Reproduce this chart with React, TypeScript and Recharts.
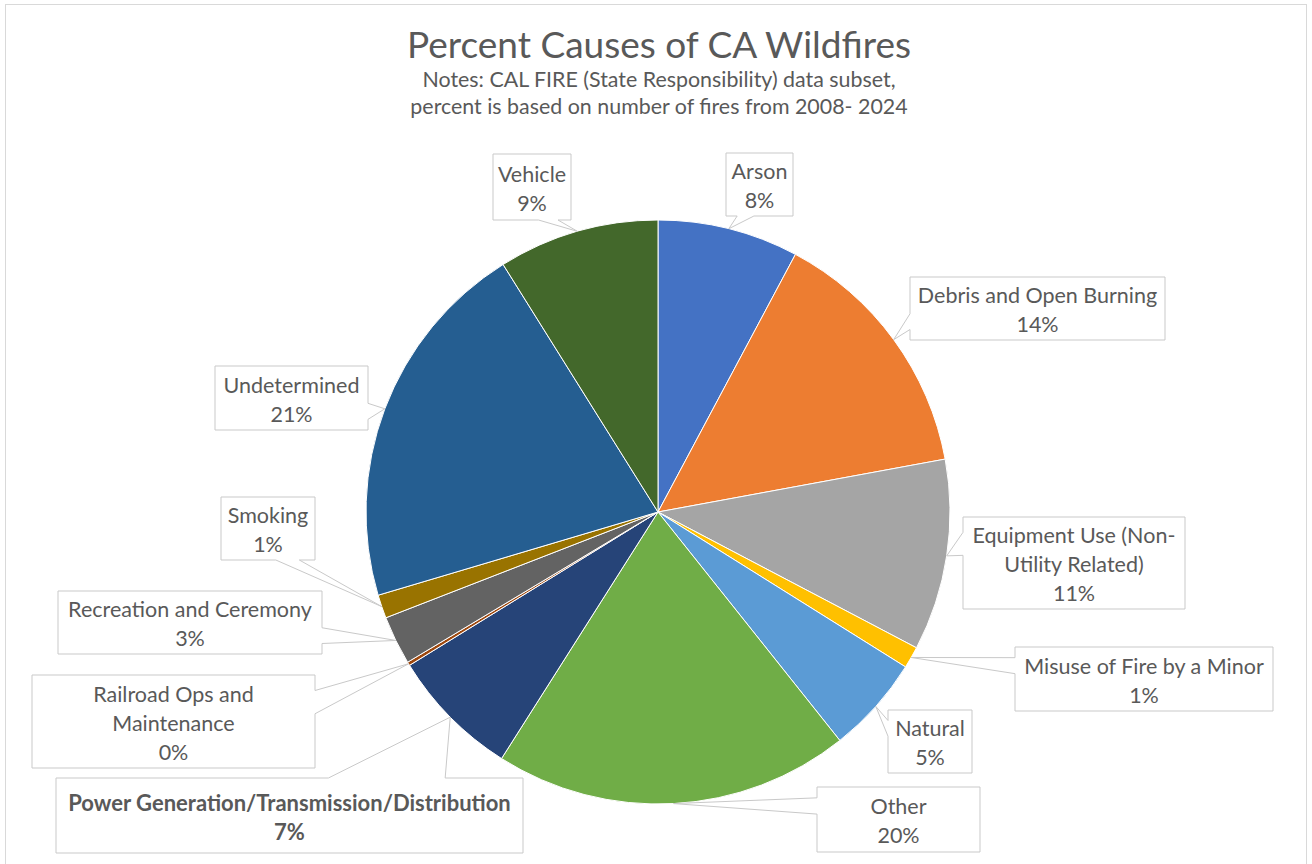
import React from 'react';
import { PieChart, Pie, Cell } from 'recharts';

const CATEGORIES: string[] = [
  'Arson',
  'Debris and Open Burning',
  'Equipment Use (Non-Utility Related)',
  'Misuse of Fire by a Minor',
  'Natural',
  'Other',
  'Power Generation/Transmission/Distribution',
  'Railroad Ops and Maintenance',
  'Recreation and Ceremony',
  'Smoking',
  'Undetermined',
  'Vehicle',
];

const VALUES: number[] = [7.8, 14.3, 10.6, 1.2, 5.4, 19.7, 7.2, 0.2, 2.7, 1.3, 20.7, 8.9];

const LABEL_LINES: string[][] = [
  ['Arson'],
  ['Debris and Open Burning'],
  ['Equipment Use (Non-', 'Utility Related)'],
  ['Misuse of Fire by a Minor'],
  ['Natural'],
  ['Other'],
  ['Power Generation/Transmission/Distribution'],
  ['Railroad Ops and', 'Maintenance'],
  ['Recreation and Ceremony'],
  ['Smoking'],
  ['Undetermined'],
  ['Vehicle'],
];

const COLORS: string[] = [
  '#4472C4', '#ED7D31', '#A5A5A5', '#FFC000', '#5B9BD5', '#70AD47',
  '#264478', '#9E480E', '#636363', '#997300', '#255E91', '#43682B',
];

const BOLD_INDEX = 6;

// Layout of the callout boxes (page pixels)
const BOXES = [
  { x: 726, y: 153, w: 67, h: 63 },
  { x: 910, y: 277, w: 255, h: 63 },
  { x: 963, y: 517, w: 222, h: 92 },
  { x: 1015, y: 647, w: 258, h: 64 },
  { x: 888, y: 710, w: 84, h: 63 },
  { x: 817, y: 787, w: 163, h: 65 },
  { x: 56, y: 778, w: 467, h: 75 },
  { x: 32, y: 675, w: 283, h: 93 },
  { x: 58, y: 591, w: 264, h: 63 },
  { x: 221, y: 497, w: 94, h: 63 },
  { x: 215, y: 366, w: 153, h: 64 },
  { x: 493, y: 154, w: 78, h: 66 },
];

const data = CATEGORIES.map((name, i) => ({ name, value: VALUES[i] }));
const TOTAL = VALUES.reduce((a, b) => a + b, 0);

const FONT = 'Lato, "Open Sans", sans-serif';
const TEXT_COLOR = '#595959';

function calloutPath(b: { x: number; y: number; w: number; h: number }, tx: number, ty: number) {
  const { x, y, w, h } = b;
  const hc = x + w / 2;
  const vc = y + h / 2;
  const dx = tx - hc;
  const dy = ty - vc;
  const dq = (dx * h) / w;
  const x1 = x + (w * (dx > 0 ? 7 : 2)) / 12;
  const x2 = x + (w * (dx > 0 ? 10 : 5)) / 12;
  const y1 = y + (h * (dy > 0 ? 7 : 2)) / 12;
  const y2 = y + (h * (dy > 0 ? 10 : 5)) / 12;
  const vertical = Math.abs(dy) > Math.abs(dq);
  let d = `M${x},${y}`;
  if (vertical && dy < 0) d += ` L${x1},${y} L${tx},${ty} L${x2},${y}`;
  d += ` L${x + w},${y}`;
  if (!vertical && dx > 0) d += ` L${x + w},${y1} L${tx},${ty} L${x + w},${y2}`;
  d += ` L${x + w},${y + h}`;
  if (vertical && dy > 0) d += ` L${x2},${y + h} L${tx},${ty} L${x1},${y + h}`;
  d += ` L${x},${y + h}`;
  if (!vertical && dx < 0) d += ` L${x},${y2} L${tx},${ty} L${x},${y1}`;
  d += ' Z';
  return d;
}

const RAD = Math.PI / 180;

const renderLabel = (props: any) => {
  const { cx, cy, midAngle, outerRadius, index, value } = props;
  const tx = cx + outerRadius * Math.cos(-midAngle * RAD);
  const ty = cy + outerRadius * Math.sin(-midAngle * RAD);
  const b = BOXES[index];
  const lines = [...LABEL_LINES[index], `${Math.round((value / TOTAL) * 100)}%`];
  const lh = 29;
  const vc = b.y + b.h / 2;
  const bold = index === BOLD_INDEX;
  return (
    <g key={`lbl-${index}`}>
      <path d={calloutPath(b, tx, ty)} fill="#ffffff" stroke="#c9c9c9" strokeWidth={1} />
      {lines.map((t, i) => (
        <text
          key={i}
          x={b.x + b.w / 2}
          y={vc + (i - (lines.length - 1) / 2) * lh + 1}
          textAnchor="middle"
          dominantBaseline="central"
          fontFamily={FONT}
          fontSize={bold ? 22 : 21.5}
          fontWeight={bold ? 700 : 400}
          fill={TEXT_COLOR}
        >
          {t}
        </text>
      ))}
    </g>
  );
};

export default function App() {
  return (
    <div style={{ position: 'absolute', left: 0, top: 0, width: 1312, height: 864, background: '#ffffff', overflow: 'hidden' }}>
      <div
        style={{
          position: 'absolute',
          left: 5,
          top: 4,
          width: 1302,
          height: 870,
          border: '1px solid #d9d9d9',
          boxSizing: 'border-box',
        }}
      />
      <div
        style={{
          position: 'absolute',
          left: 0,
          width: 1318,
          top: 22,
          textAlign: 'center',
          fontFamily: FONT,
          fontSize: 37,
          color: TEXT_COLOR,
          lineHeight: '44px',
        }}
      >
        Percent Causes of CA Wildfires
      </div>
      <div
        style={{
          position: 'absolute',
          left: 0,
          width: 1318,
          top: 66,
          textAlign: 'center',
          fontFamily: FONT,
          fontSize: 21.4,
          color: TEXT_COLOR,
          lineHeight: '27px',
        }}
      >
        Notes: CAL FIRE (State Responsibility) data subset,
        <br />
        percent is based on number of fires from 2008- 2024
      </div>
      <div style={{ position: 'absolute', left: 0, top: 0 }}>
        <PieChart width={1312} height={864} margin={{ top: 0, right: 0, bottom: 0, left: 0 }}>
          <Pie
            data={data}
            dataKey="value"
            nameKey="name"
            cx={658}
            cy={512}
            outerRadius={292}
            startAngle={90}
            endAngle={-270}
            stroke="#ffffff"
            strokeWidth={1}
            label={renderLabel}
            labelLine={false}
            isAnimationActive={false}
          >
            {data.map((_, i) => (
              <Cell key={i} fill={COLORS[i]} />
            ))}
          </Pie>
        </PieChart>
      </div>
    </div>
  );
}
